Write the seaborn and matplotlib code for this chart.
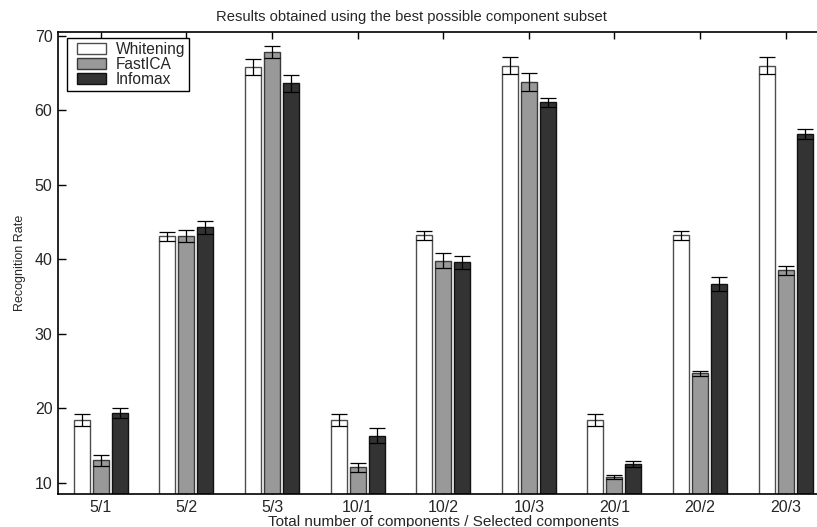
import numpy as np
import pandas as pd
import matplotlib
matplotlib.use("Agg")
import matplotlib.pyplot as plt
import seaborn as sns
from matplotlib.patches import Rectangle
from matplotlib.legend_handler import HandlerPatch

# Values
configs = ["5/1", "5/2", "5/3", "10/1", "10/2", "10/3", "20/1", "20/2", "20/3"]
methods = ["Whitening", "FastICA", "Infomax"]

whitening = [18.4, 43.1, 65.8, 18.4, 43.2, 66.0, 18.4, 43.2, 66.0]
fastica = [13.0, 43.1, 67.8, 12.1, 39.8, 63.8, 10.8, 24.7, 38.5]
infomax = [19.4, 44.3, 63.6, 16.3, 39.6, 61.1, 12.5, 36.7, 56.8]

whitening_err = [0.8, 0.6, 1.1, 0.8, 0.6, 1.1, 0.8, 0.6, 1.1]
fastica_err = [0.8, 0.8, 0.8, 0.6, 1.0, 1.2, 0.3, 0.3, 0.6]
infomax_err = [0.7, 0.9, 1.1, 1.0, 0.9, 0.6, 0.4, 0.9, 0.7]

bar_colors = ["#ffffff", "#999999", "#333333"]
edge_colors = ["#4d4d4d", "#3a3a3a", "#111111"]

df = pd.DataFrame({
    "config": configs * 3,
    "method": np.repeat(methods, len(configs)),
    "rate": whitening + fastica + infomax,
})
errs = [whitening_err, fastica_err, infomax_err]

sns.set_style("white")
plt.rcParams["font.family"] = ["Liberation Sans", "DejaVu Sans"]

fig = plt.figure(figsize=(8.17, 5.27), dpi=100)
ax = fig.add_axes([0.071, 0.0626, 0.943, 0.8767])

sns.barplot(data=df, x="config", y="rate", hue="method", order=configs,
            hue_order=methods, palette=bar_colors, width=0.667, gap=0.16,
            errorbar=None, saturation=1, ax=ax, linewidth=1.0, edgecolor="black")

# add the error bars on top of each hue's bars
bar_groups = list(ax.containers)
for i, cont in enumerate(bar_groups):
    xs, hs = [], []
    for bar in cont:
        bar.set_edgecolor(edge_colors[i])
        xs.append(bar.get_x() + bar.get_width() / 2)
        hs.append(bar.get_height())
    ax.errorbar(xs, hs, yerr=errs[i], fmt="none", ecolor="black",
                elinewidth=0.9, capsize=5.8, capthick=0.9, zorder=5)

ax.set_xlim(-0.5, 8.5)
ax.set_ylim(8.5, 70.5)
ax.set_yticks([10, 20, 30, 40, 50, 60, 70])

for s in ax.spines.values():
    s.set_visible(True)
    s.set_color("black")
    s.set_linewidth(1.2)

ax.tick_params(axis="x", direction="in", top=True, bottom=True, length=5,
               width=1.0, labelsize=11.5, pad=4, color="black")
ax.tick_params(axis="y", direction="in", left=True, right=True, length=6,
               width=1.0, labelsize=11.5, pad=4, color="black")

ax.set_title("Results obtained using the best possible component subset",
             fontsize=10.6, pad=8, x=0.459)
ax.set_xlabel("Total number of components / Selected components",
              fontsize=11, labelpad=0)
ax.set_ylabel("Recognition Rate", fontsize=9, labelpad=6)


# matlab-style legend swatch: a bit of margin on the left of the patch
def swatch(legend, orig_handle, xdescent, ydescent, width, height, fontsize):
    off = 0.17 * width
    return Rectangle((-xdescent + off, -ydescent), width - off, height)


leg = ax.legend(loc="upper left", bbox_to_anchor=(0.0117, 0.987),
                borderaxespad=0, fontsize=11.2, frameon=True, fancybox=False,
                edgecolor="black", labelspacing=0.0, handlelength=2.25,
                handleheight=0.72, handletextpad=0.65, borderpad=0.25,
                handler_map={Rectangle: HandlerPatch(patch_func=swatch)})
leg.get_frame().set_linewidth(1.0)
leg.get_frame().set_alpha(1)
for h, ec in zip(leg.legend_handles, edge_colors):
    h.set_edgecolor(ec)

fig.savefig("out.png", dpi=100)
